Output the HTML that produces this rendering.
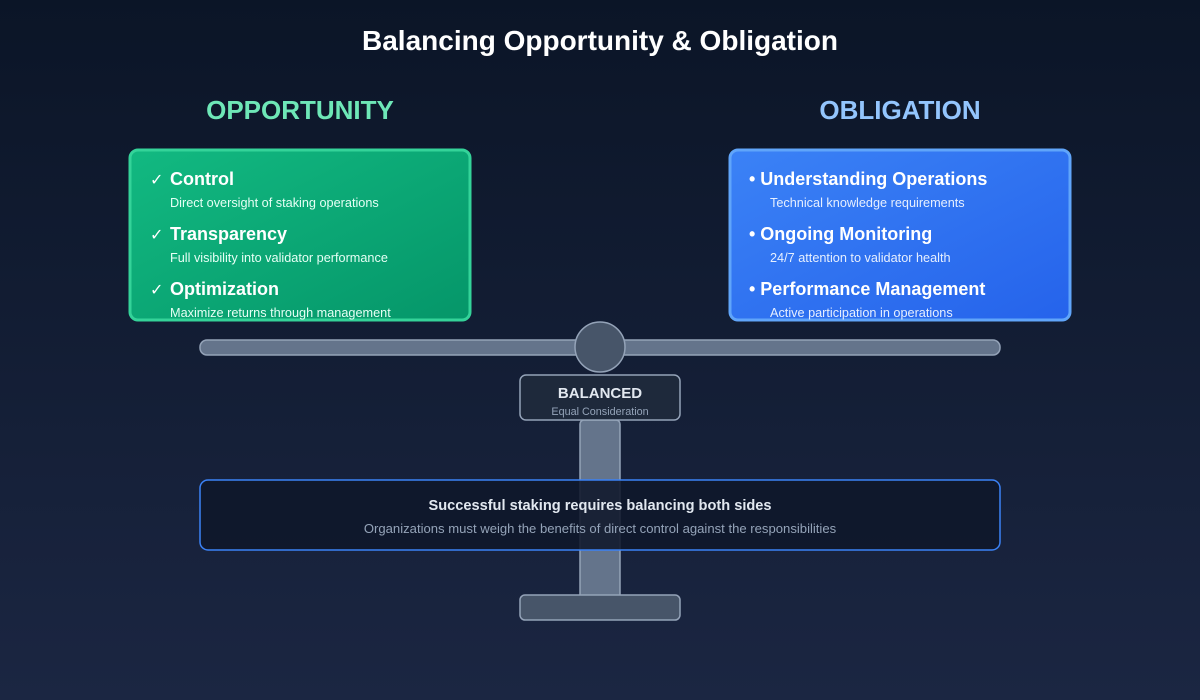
<!DOCTYPE html>
<html><head><meta charset="utf-8"><style>html,body{margin:0;padding:0;background:#0f172a}svg{display:block}text{font-family:"Liberation Sans",sans-serif}</style></head>
<body>
<svg width="1200" height="700" viewBox="0 0 1200 700" xmlns="http://www.w3.org/2000/svg">
<defs>
<linearGradient id="bg" x1="0" y1="0" x2="0" y2="1"><stop offset="0" stop-color="#0b1527"/><stop offset="1" stop-color="#1b2642"/></linearGradient>
<linearGradient id="g1" x1="0" y1="0" x2="1" y2="1"><stop offset="0" stop-color="#12b981"/><stop offset="1" stop-color="#059669"/></linearGradient>
<linearGradient id="g2" x1="0" y1="0" x2="1" y2="1"><stop offset="0" stop-color="#3b82f6"/><stop offset="1" stop-color="#2563eb"/></linearGradient>
</defs>
<rect width="1200" height="700" fill="url(#bg)"/>
<text x="600" y="50" text-anchor="middle" font-size="28" font-weight="bold" fill="#fff">Balancing Opportunity &amp; Obligation</text>
<text x="300" y="119" text-anchor="middle" font-size="26" font-weight="bold" fill="#6ee7b7">OPPORTUNITY</text>
<text x="900" y="119" text-anchor="middle" font-size="26" font-weight="bold" fill="#93c5fd">OBLIGATION</text>

<rect x="130" y="150" width="340" height="170" rx="8" fill="url(#g1)" stroke="#34d399" stroke-width="3"/>
<g fill="#fff">
<text x="150" y="185" font-size="16">✓</text><text x="170" y="185" font-size="18" font-weight="bold">Control</text>
<text x="170" y="207" font-size="12.7" fill="#e6fff5">Direct oversight of staking operations</text>
<text x="150" y="240" font-size="16">✓</text><text x="170" y="240" font-size="18" font-weight="bold">Transparency</text>
<text x="170" y="262" font-size="12.7" fill="#e6fff5">Full visibility into validator performance</text>
<text x="150" y="295" font-size="16">✓</text><text x="170" y="295" font-size="18" font-weight="bold">Optimization</text>
<text x="170" y="317" font-size="12.7" fill="#e6fff5">Maximize returns through management</text>
</g>

<rect x="730" y="150" width="340" height="170" rx="8" fill="url(#g2)" stroke="#60a5fa" stroke-width="3"/>
<g fill="#fff">
<text x="749" y="185" font-size="18" font-weight="bold">• Understanding Operations</text>
<text x="770" y="207" font-size="12.7" fill="#e6efff">Technical knowledge requirements</text>
<text x="749" y="240" font-size="18" font-weight="bold">• Ongoing Monitoring</text>
<text x="770" y="262" font-size="12.7" fill="#e6efff">24/7 attention to validator health</text>
<text x="749" y="295" font-size="18" font-weight="bold">• Performance Management</text>
<text x="770" y="317" font-size="12.7" fill="#e6efff">Active participation in operations</text>
</g>

<rect x="580" y="420" width="40" height="180" rx="4" fill="#64748b" stroke="#94a3b8" stroke-width="1.5"/>
<rect x="520" y="595" width="160" height="25" rx="5" fill="#475569" stroke="#94a3b8" stroke-width="1.5"/>
<rect x="200" y="340" width="800" height="15" rx="7" fill="#64748b" stroke="#94a3b8" stroke-width="1.5"/>
<circle cx="600" cy="347" r="25" fill="#475569" stroke="#94a3b8" stroke-width="1.5"/>
<rect x="520" y="375" width="160" height="45" rx="6" fill="#1e293b" stroke="#94a3b8" stroke-width="1.5"/>
<text x="600" y="398" text-anchor="middle" font-size="15" font-weight="bold" fill="#e2e8f0">BALANCED</text>
<text x="600" y="415" text-anchor="middle" font-size="10.8" fill="#94a3b8">Equal Consideration</text>

<rect x="200" y="480" width="800" height="70" rx="8" fill="#0f172a" fill-opacity="0.88" stroke="#3b82f6" stroke-width="1.5"/>
<text x="600" y="510" text-anchor="middle" font-size="14.6" font-weight="bold" fill="#e2e8f0">Successful staking requires balancing both sides</text>
<text x="600" y="533" text-anchor="middle" font-size="13.1" fill="#94a3b8">Organizations must weigh the benefits of direct control against the responsibilities</text>
</svg>
</body></html>
